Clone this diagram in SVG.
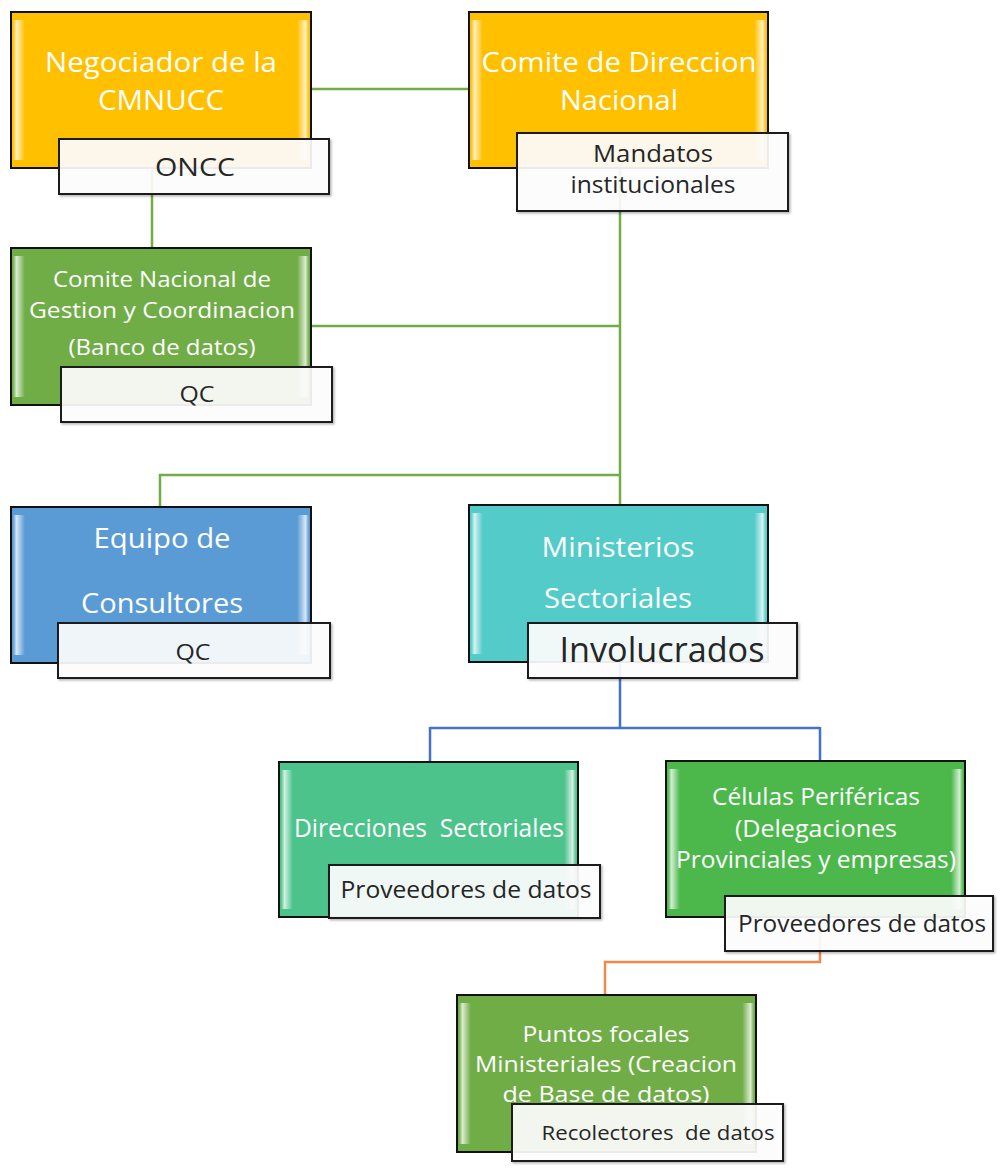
<svg xmlns="http://www.w3.org/2000/svg" width="1001" height="1169" viewBox="0 0 1001 1169">
<defs>
<linearGradient id="bevel" x1="0" y1="0" x2="1" y2="0">
<stop offset="0" stop-color="#fff" stop-opacity="0"/>
<stop offset="0.012" stop-color="#fff" stop-opacity="0.75"/>
<stop offset="0.04" stop-color="#fff" stop-opacity="0"/>
<stop offset="0.96" stop-color="#fff" stop-opacity="0"/>
<stop offset="0.988" stop-color="#fff" stop-opacity="0.75"/>
<stop offset="1" stop-color="#fff" stop-opacity="0"/>
</linearGradient>
<filter id="sh" x="-5%" y="-5%" width="115%" height="120%">
<feDropShadow dx="1.5" dy="1.5" stdDeviation="1" flood-color="#000" flood-opacity="0.3"/>
</filter>
</defs>
<style>
.box{stroke:#111;stroke-width:2}
.bev{fill:url(#bevel)}
.lab{fill:#fff;fill-opacity:0.9;stroke:#1a1a1a;stroke-width:2}
.wt{fill:#fff;font-family:"Open Sans","Noto Sans",sans-serif;text-anchor:middle;white-space:pre}
.bt{fill:#262626;font-family:"Open Sans","Noto Sans",sans-serif;text-anchor:middle;white-space:pre}
.g{stroke:#70AD47;stroke-width:2.5;fill:none}
.b{stroke:#4472C4;stroke-width:2.5;fill:none}
.o{stroke:#F08A4B;stroke-width:2.5;fill:none}
</style>
<rect width="1001" height="1169" fill="#fff"/>
<g id="connectors">
<path class="g" d="M311,89 H470"/>
<path class="g" d="M152,168 V249"/>
<path class="g" d="M620,168 V506"/>
<path class="g" d="M311,326 H620"/>
<path class="g" d="M620,475 H160 V508"/>
<path class="b" d="M620,662 V728 M430,728 H820 M430,727 V763 M820,727 V762"/>
<path class="o" d="M820,917 V962 H605 V996"/>
</g>
<g id="negociador">
<rect class="box" x="11" y="12" width="300" height="156" fill="#FFC000"/>
<rect class="bev" x="13" y="20" width="296" height="140"/>
<text class="wt" x="161" y="72" font-size="27" textLength="232" lengthAdjust="spacingAndGlyphs">Negociador de la</text>
<text class="wt" x="161" y="110" font-size="27" textLength="126" lengthAdjust="spacingAndGlyphs">CMNUCC</text>
<rect class="lab" x="59" y="139" width="270" height="55" filter="url(#sh)"/>
<text class="bt" x="195" y="176" font-size="26" textLength="80" lengthAdjust="spacingAndGlyphs">ONCC</text>
</g>
<g id="comite-direccion">
<rect class="box" x="469" y="12" width="299" height="156" fill="#FFC000"/>
<rect class="bev" x="471" y="20" width="295" height="140"/>
<text class="wt" x="619" y="72" font-size="27" textLength="275" lengthAdjust="spacingAndGlyphs">Comite de Direccion</text>
<text class="wt" x="619" y="110" font-size="27" textLength="118" lengthAdjust="spacingAndGlyphs">Nacional</text>
<rect class="lab" x="517" y="133" width="271" height="78" filter="url(#sh)"/>
<text class="bt" x="653" y="162" font-size="23" textLength="120" lengthAdjust="spacingAndGlyphs">Mandatos</text>
<text class="bt" x="653" y="193" font-size="23" textLength="165" lengthAdjust="spacingAndGlyphs">institucionales</text>
</g>
<g id="comite-nacional">
<rect class="box" x="11" y="248" width="300" height="157" fill="#70AD47"/>
<rect class="bev" x="13" y="256" width="296" height="141"/>
<text class="wt" x="162" y="287" font-size="22" textLength="218" lengthAdjust="spacingAndGlyphs">Comite Nacional de</text>
<text class="wt" x="162" y="318" font-size="22" textLength="266" lengthAdjust="spacingAndGlyphs">Gestion y Coordinacion</text>
<text class="wt" x="162" y="355" font-size="22" textLength="187" lengthAdjust="spacingAndGlyphs">(Banco de datos)</text>
<rect class="lab" x="61" y="367" width="271" height="55" filter="url(#sh)"/>
<text class="bt" x="197" y="402" font-size="22" textLength="35" lengthAdjust="spacingAndGlyphs">QC</text>
</g>
<g id="equipo">
<rect class="box" x="11" y="507" width="300" height="156" fill="#5B9BD5"/>
<rect class="bev" x="13" y="515" width="296" height="140"/>
<text class="wt" x="162" y="548" font-size="28" textLength="137" lengthAdjust="spacingAndGlyphs">Equipo de</text>
<text class="wt" x="162" y="613" font-size="28" textLength="162" lengthAdjust="spacingAndGlyphs">Consultores</text>
<rect class="lab" x="58" y="623" width="272" height="55" filter="url(#sh)"/>
<text class="bt" x="193" y="660" font-size="22" textLength="35" lengthAdjust="spacingAndGlyphs">QC</text>
</g>
<g id="ministerios">
<rect class="box" x="469" y="505" width="299" height="157" fill="#52CBC9"/>
<rect class="bev" x="471" y="513" width="295" height="141"/>
<text class="wt" x="618" y="557" font-size="27" textLength="153" lengthAdjust="spacingAndGlyphs">Ministerios</text>
<text class="wt" x="618" y="608" font-size="27" textLength="148" lengthAdjust="spacingAndGlyphs">Sectoriales</text>
<rect class="lab" x="528" y="623" width="269" height="55" filter="url(#sh)"/>
<text class="bt" x="662" y="662" font-size="34" textLength="205" lengthAdjust="spacingAndGlyphs">Involucrados</text>
</g>
<g id="direcciones">
<rect class="box" x="279" y="762" width="299" height="155" fill="#4CC38B"/>
<rect class="bev" x="281" y="770" width="295" height="139"/>
<text class="wt" x="429" y="837" font-size="25" textLength="270" lengthAdjust="spacingAndGlyphs">Direcciones  Sectoriales</text>
<rect class="lab" x="329" y="865" width="271" height="53" filter="url(#sh)"/>
<text class="bt" x="466" y="898" font-size="23" textLength="251" lengthAdjust="spacingAndGlyphs">Proveedores de datos</text>
</g>
<g id="celulas">
<rect class="box" x="666" y="761" width="299" height="156" fill="#4CB84C"/>
<rect class="bev" x="668" y="769" width="295" height="140"/>
<text class="wt" x="816" y="805" font-size="24" textLength="208" lengthAdjust="spacingAndGlyphs">Células Periféricas</text>
<text class="wt" x="816" y="837" font-size="24" textLength="162" lengthAdjust="spacingAndGlyphs">(Delegaciones</text>
<text class="wt" x="816" y="868" font-size="24" textLength="280" lengthAdjust="spacingAndGlyphs">Provinciales y empresas)</text>
<rect class="lab" x="725" y="896" width="268" height="55" filter="url(#sh)"/>
<text class="bt" x="862" y="932" font-size="23" textLength="248" lengthAdjust="spacingAndGlyphs">Proveedores de datos</text>
</g>
<g id="puntos-focales">
<rect class="box" x="457" y="995" width="299" height="157" fill="#70AD47"/>
<rect class="bev" x="459" y="1003" width="295" height="141"/>
<text class="wt" x="606" y="1042" font-size="22" textLength="167" lengthAdjust="spacingAndGlyphs">Puntos focales</text>
<text class="wt" x="606" y="1072" font-size="22" textLength="262" lengthAdjust="spacingAndGlyphs">Ministeriales (Creacion</text>
<text class="wt" x="606" y="1102" font-size="22" textLength="207" lengthAdjust="spacingAndGlyphs">de Base de datos)</text>
<rect class="lab" x="512" y="1104" width="271" height="57" filter="url(#sh)"/>
<text class="bt" x="658" y="1140" font-size="20" textLength="233" lengthAdjust="spacingAndGlyphs">Recolectores  de datos</text>
</g>
</svg>
